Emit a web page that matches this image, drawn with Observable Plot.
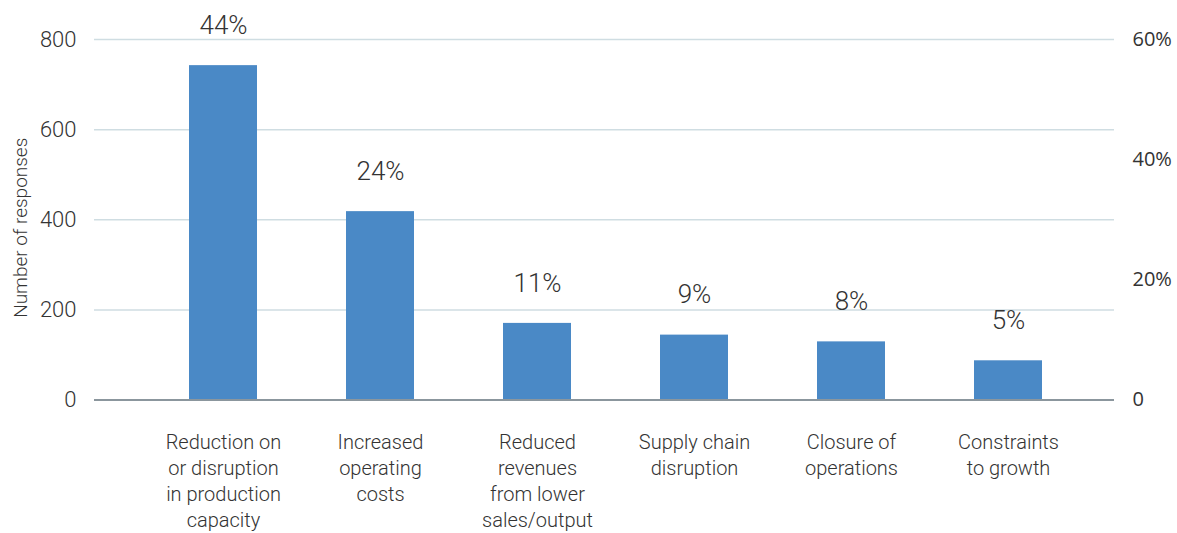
<!DOCTYPE html>
<html>
<head>
<meta charset="utf-8">
<script src="https://cdn.jsdelivr.net/npm/d3@7"></script>
<script src="https://cdn.jsdelivr.net/npm/@observablehq/plot@0.6"></script>
<style>
  html, body { margin: 0; padding: 0; background: #fff; }
  #chart svg { font-family: Roboto, "Open Sans", sans-serif; font-weight: 300; }
</style>
</head>
<body>
<div id="chart"></div>
<script>
const categories = [
  "Reduction on\nor disruption\nin production\ncapacity",
  "Increased\noperating\ncosts",
  "Reduced\nrevenues\nfrom lower\nsales/output",
  "Supply chain\ndisruption",
  "Closure of\noperations",
  "Constraints\nto growth"
];
const responses = [742, 418, 170, 144, 129, 87];
const shareLabels = ["44%", "24%", "11%", "9%", "8%", "5%"];
const leftTicks = [0, 200, 400, 600, 800];
const rightTicks = [0, 20, 40, 60];
const rightTickLabels = ["0", "20%", "40%", "60%"];
const yMax = 800;
const rightMax = 60;

const data = categories.map((c, i) => ({category: c, value: responses[i], label: shareLabels[i]}));
const rightTickData = rightTicks.map((p, i) => ({v: p * yMax / rightMax, t: rightTickLabels[i]}));

const textColor = "#333333";

const chart = Plot.plot({
  width: 1177,
  height: 533,
  marginLeft: 94,
  marginRight: 63,
  marginTop: 39,
  marginBottom: 133.5,
  style: {fontFamily: "Roboto, 'Open Sans', sans-serif", background: "#fff", color: textColor},
  x: {domain: categories, insetLeft: 49.5, insetRight: 27.5, paddingInner: 0.567, paddingOuter: 0.2835, axis: null},
  y: {domain: [0, yMax], axis: null},
  marks: [
    Plot.ruleY(leftTicks.filter(d => d > 0), {stroke: "#cfdde2", strokeWidth: 1.5}),
    Plot.barY(data, {x: "category", y: "value", fill: "#4a89c6"}),
    Plot.ruleY([0], {stroke: "#8b969d", strokeWidth: 2}),
    Plot.text(data, {x: "category", y: "value", text: "label", dy: -40, fontSize: 26, fill: textColor, fontWeight: 300}),
    Plot.text(data, {x: "category", y: () => 0, text: "category", dy: 31, lineAnchor: "top", lineHeight: 1.3, fontSize: 20, fill: textColor, fontWeight: 300}),
    Plot.axisY({ticks: leftTicks, anchor: "left", tickSize: 0, tickPadding: 18, fontSize: 22, fill: textColor, fontWeight: 300, label: null}),
    Plot.text(rightTickData, {y: "v", text: "t", frameAnchor: "right", dx: 18, textAnchor: "start", fontSize: 20, fill: textColor, fontFamily: "'Open Sans', sans-serif", fontWeight: 400}),
    Plot.text(["Number of responses"], {frameAnchor: "left", text: d => d, rotate: -90, textAnchor: "middle", dx: -74, dy: 8, fontSize: 19, fill: textColor, fontWeight: 300})
  ]
});
document.getElementById("chart").appendChild(chart);
</script>
</body>
</html>
